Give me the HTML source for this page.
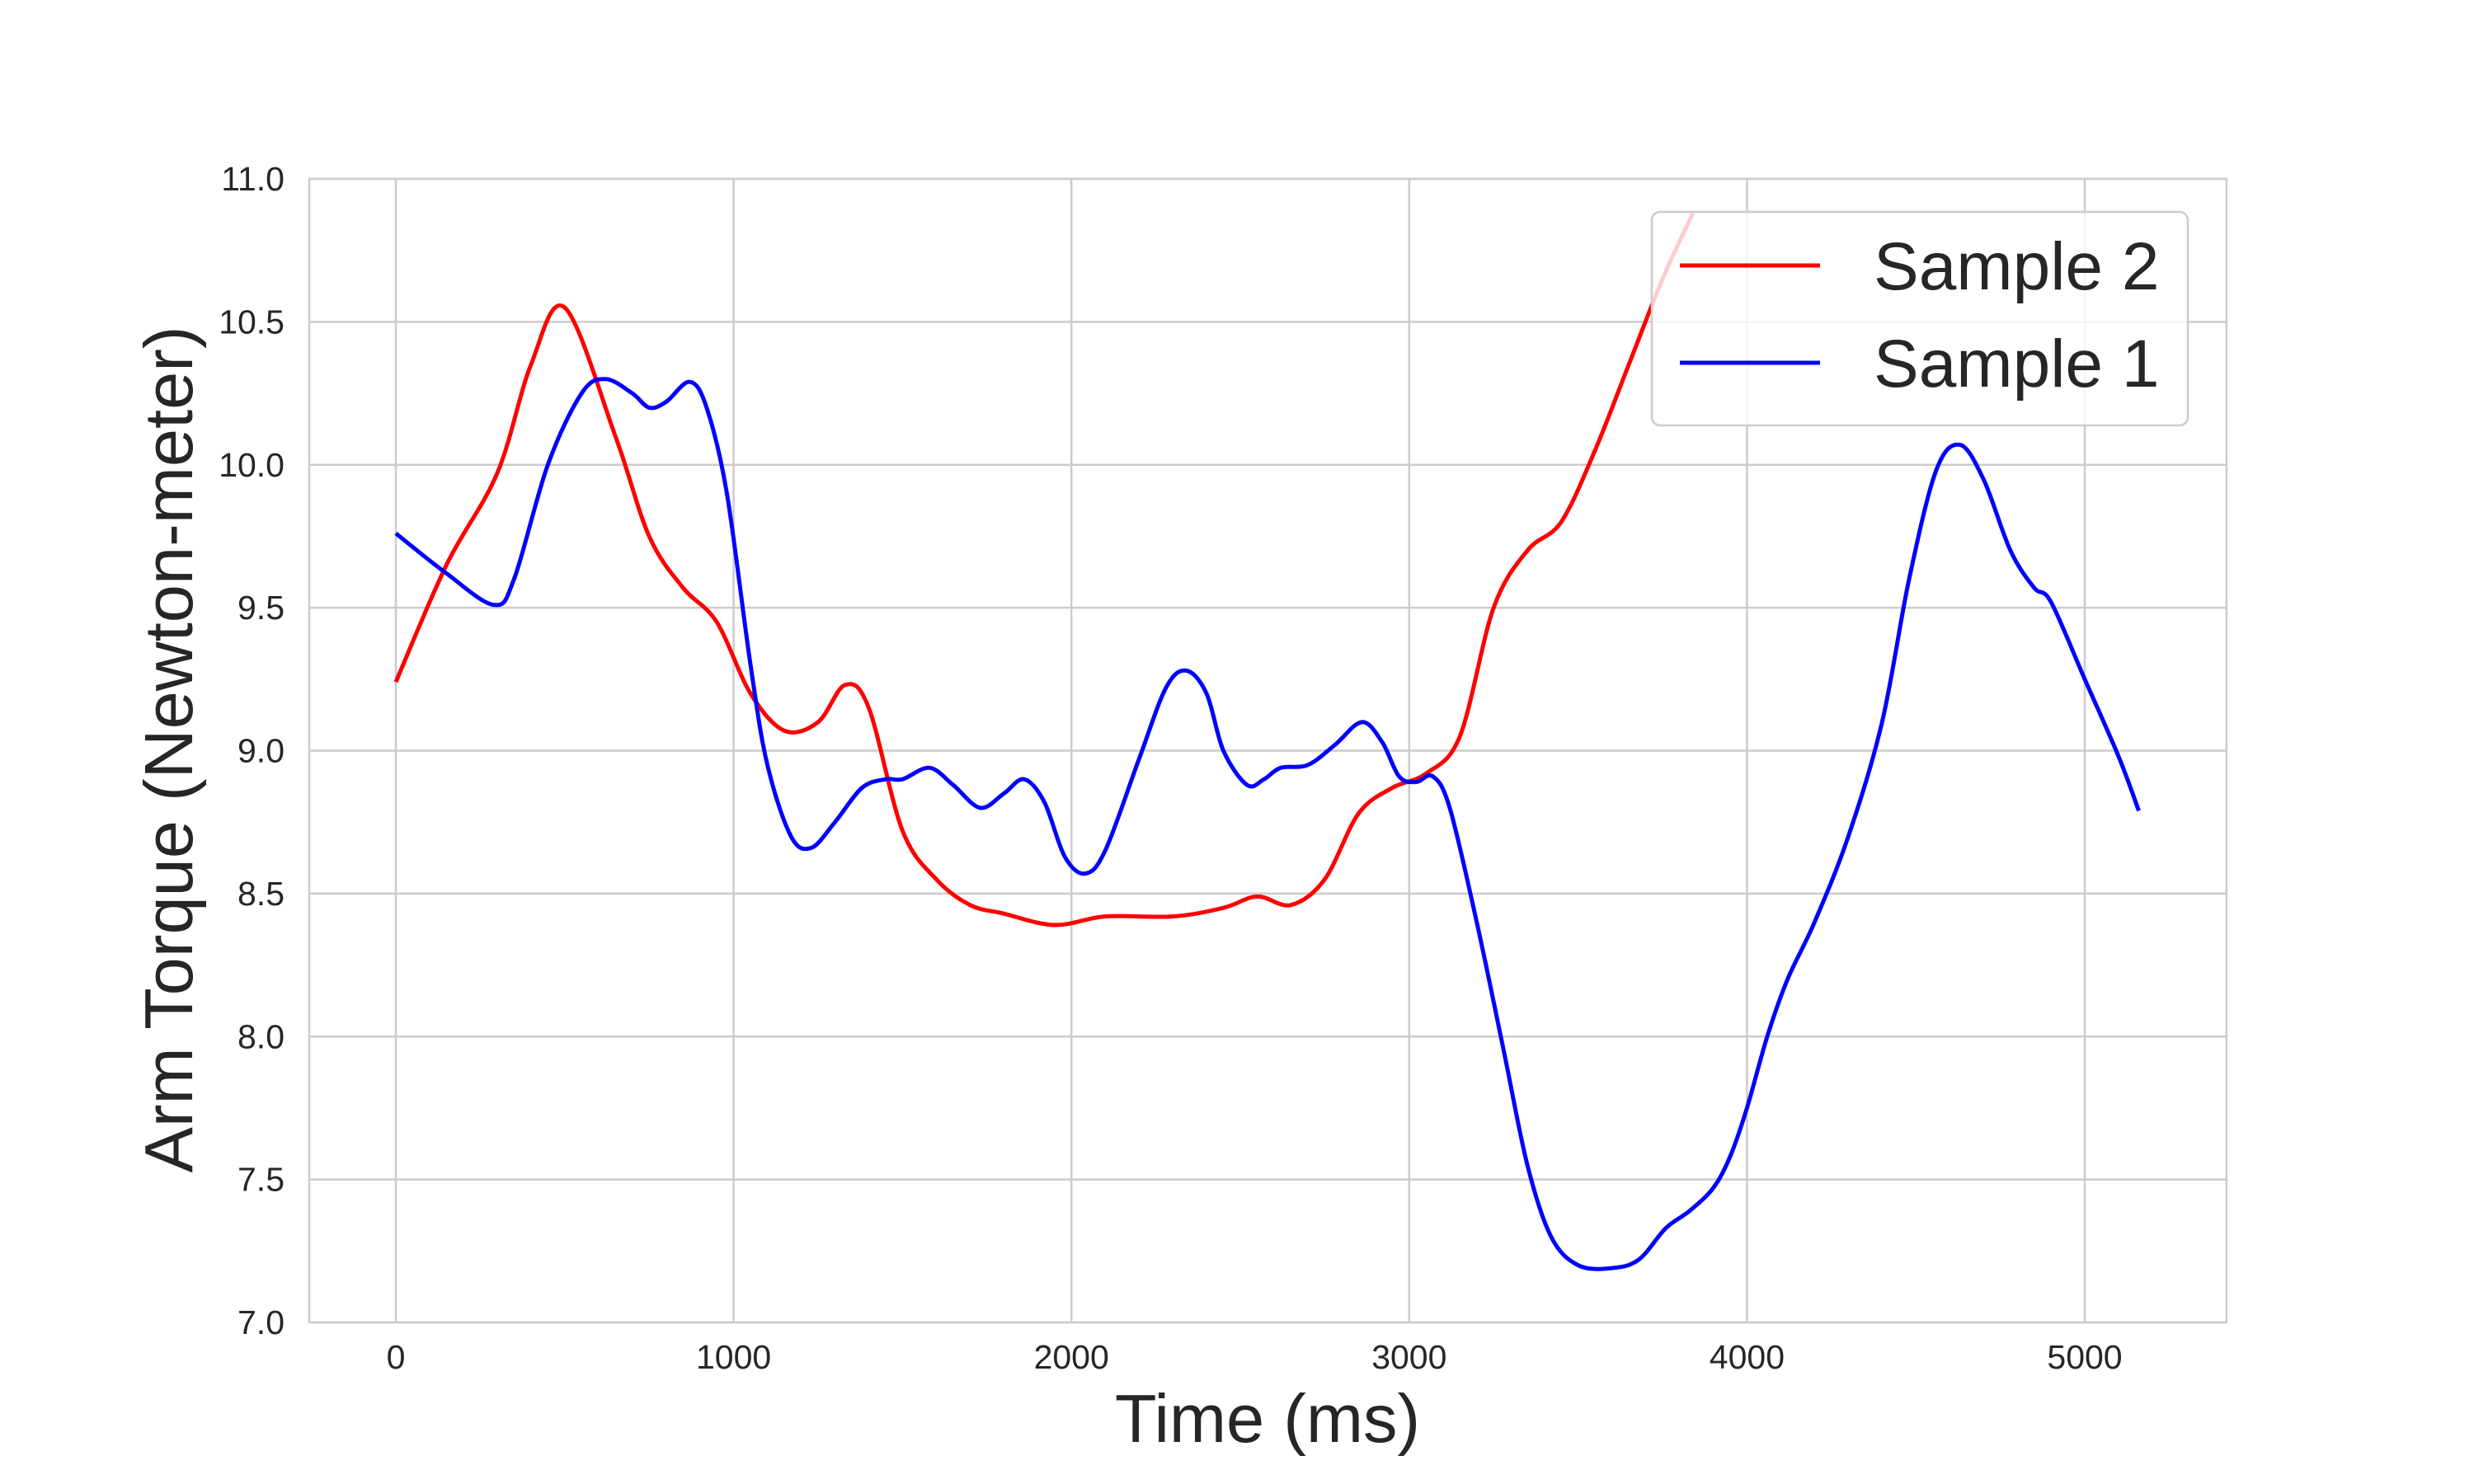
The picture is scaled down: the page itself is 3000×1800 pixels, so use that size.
<!DOCTYPE html>
<html><head><meta charset="utf-8"><style>
html,body{margin:0;padding:0;background:#fff;}
svg{display:block;font-family:"Liberation Sans",Arial,sans-serif;}
</style></head><body>
<svg id="chart" width="3000" height="1800" viewBox="0 0 3000 1800" xmlns="http://www.w3.org/2000/svg">
<rect width="3000" height="1800" fill="#fff"/>
<g id="grid"></g>
<g id="series"></g>
<g id="ticks"></g>
<text x="1537" y="1749" font-size="83" text-anchor="middle" fill="#262626">Time (ms)</text>
<text transform="translate(233,909) rotate(-90)" font-size="83" text-anchor="middle" fill="#262626">Arm Torque (Newton-meter)</text>
<g>
<rect x="2003" y="257" width="650" height="259" rx="10" fill="#fff" fill-opacity="0.8" stroke="#ccc" stroke-width="2.5"/>
<line x1="2037" y1="322" x2="2207" y2="322" stroke="#ff0000" stroke-width="5"/>
<text x="2272" y="351" font-size="82" fill="#262626">Sample 2</text>
<line x1="2037" y1="440" x2="2207" y2="440" stroke="#0000ff" stroke-width="5"/>
<text x="2272" y="469" font-size="82" fill="#262626">Sample 1</text>
</g>
</svg>
<script>
const xTicks=[0,1000,2000,3000,4000,5000];
const yTicks=[7.0,7.5,8.0,8.5,9.0,9.5,10.0,10.5,11.0];
const s2x=[0,150,300,400,500,650,750,850,950,1050,1150,1250,1330,1400,1500,1600,1700,1800,1950,2100,2300,2450,2550,2650,2750,2850,2950,3050,3150,3250,3350,3450,3550,3650,3750,3840];
const s2y=[9.24,9.65,9.97,10.35,10.55,10.1,9.75,9.57,9.45,9.2,9.07,9.1,9.23,9.15,8.72,8.55,8.46,8.43,8.39,8.42,8.42,8.45,8.49,8.46,8.55,8.78,8.87,8.92,9.05,9.5,9.7,9.8,10.05,10.35,10.65,10.88];
const s1x=[0,150,290,350,450,550,620,700,750,800,870,920,980,1050,1100,1170,1230,1300,1380,1450,1500,1580,1650,1730,1800,1860,1920,1980,2040,2100,2200,2280,2340,2400,2450,2520,2570,2620,2700,2780,2860,2920,2970,3020,3070,3120,3200,3280,3350,3420,3500,3600,3680,3760,3830,3900,3950,4000,4060,4120,4200,4300,4400,4480,4560,4630,4700,4780,4850,4900,5000,5100,5160];
const s1y=[9.76,9.62,9.51,9.6,10.0,10.25,10.3,10.25,10.2,10.22,10.29,10.2,9.9,9.3,8.95,8.7,8.66,8.75,8.87,8.9,8.9,8.94,8.88,8.8,8.85,8.9,8.82,8.63,8.57,8.65,8.97,9.22,9.28,9.2,9.0,8.88,8.9,8.94,8.95,9.02,9.1,9.03,8.91,8.89,8.91,8.8,8.4,7.95,7.55,7.3,7.2,7.19,7.22,7.33,7.39,7.47,7.58,7.75,8.0,8.2,8.4,8.7,9.1,9.6,9.98,10.07,9.95,9.7,9.57,9.52,9.25,8.98,8.79];
const L=375,R=2700,T=217,B=1604;
const xs=v=>480+(v-0)*(2528-480)/5000;
const ys=v=>B-(v-7)*(B-T)/4;
const NS="http://www.w3.org/2000/svg";
function mk(tag,attrs,parent){const e=document.createElementNS(NS,tag);for(const k in attrs)e.setAttribute(k,attrs[k]);parent.appendChild(e);return e;}
const grid=document.getElementById('grid'),ticks=document.getElementById('ticks'),series=document.getElementById('series');
xTicks.forEach(t=>{
 const l=mk('line',{x1:xs(t),x2:xs(t),y1:T,y2:B,stroke:'#cccccc','stroke-width':2.5},grid);
 
 
 const tx=mk('text',{x:xs(t),y:1660,'font-size':41,'text-anchor':'middle',fill:'#262626'},ticks);
 tx.textContent=t;
 
 
});
yTicks.forEach(t=>{
 const l=mk('line',{x1:L,x2:R,y1:ys(t),y2:ys(t),stroke:'#cccccc','stroke-width':2.5},grid);
 
 
 const tx=mk('text',{x:345,y:ys(t)+14,'font-size':41,'text-anchor':'end',fill:'#262626'},ticks);
 tx.textContent=t.toFixed(1);
 
 
});
const fr=mk('rect',{x:L,y:T,width:R-L,height:B-T,fill:'none',stroke:'#cccccc','stroke-width':2.5},grid);


function path(xa,ya){
 const p=xa.map((x,i)=>[xs(x),ys(ya[i])]);
 let d='M'+p[0][0]+','+p[0][1];
 for(let i=0;i<p.length-1;i++){
  const p0=p[Math.max(0,i-1)],p1=p[i],p2=p[i+1],p3=p[Math.min(p.length-1,i+2)];
  const c1=[p1[0]+(p2[0]-p0[0])/6,p1[1]+(p2[1]-p0[1])/6];
  const c2=[p2[0]-(p3[0]-p1[0])/6,p2[1]-(p3[1]-p1[1])/6];
  d+=' C'+c1[0]+','+c1[1]+' '+c2[0]+','+c2[1]+' '+p2[0]+','+p2[1];
 }
 return d;
}
const a=mk('path',{d:path(s2x,s2y),fill:'none',stroke:'#ff0000','stroke-width':5,'stroke-linejoin':'round'},series);


const b=mk('path',{d:path(s1x,s1y),fill:'none',stroke:'#0000ff','stroke-width':5,'stroke-linejoin':'round'},series);


</script>
</body></html>
